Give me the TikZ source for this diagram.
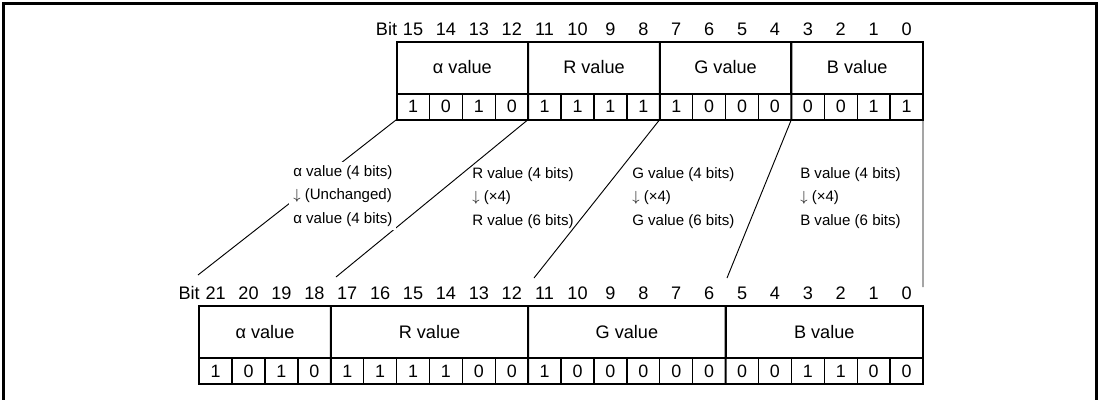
\documentclass[tikz,border=0pt]{standalone}
\usepackage{fontspec}
\setmainfont{Liberation Sans}
\usetikzlibrary{positioning}

\tikzset{
  bitcell/.style={draw, line width=1pt, outer sep=0pt, inner sep=0pt,
    minimum width=24.675pt, minimum height=19.5pt, font=\fontsize{13.4}{15}\selectfont},
  field/.style={draw, line width=1.5pt, outer sep=0pt, inner sep=0pt,
    minimum height=39pt, font=\fontsize{13.6}{16}\selectfont},
  bitnum/.style={inner sep=2pt, font=\fontsize{13.6}{15}\selectfont},
  note/.style={anchor=west, align=left, inner sep=3pt, font=\fontsize{11.3}{17.6}\selectfont},
  link/.style={line width=0.7pt},
  boxline/.style={line width=1.5pt},
}

\begin{document}
\begin{tikzpicture}[x=0.75pt, y=-0.75pt]
  \useasboundingbox (0,0) rectangle (1101,400);
  % outer frame, open at the bottom
  \draw[line width=2.2pt] (3.5,400) -- (3.5,3.5) -- (1096.5,3.5) -- (1096.5,400);

  % 16-bit register (top)
  \node[field, minimum width=98.7pt] (ta) at (462.4,67.5) {α value};
  \node[field, minimum width=98.7pt] (tr) at (594.0,67.5) {R value};
  \node[field, minimum width=98.7pt] (tg) at (725.6,67.5) {G value};
  \node[field, minimum width=98.7pt] (tb) at (857.2,67.5) {B value};
  \foreach \v [count=\i from 0] in {1,0,1,0,1,1,1,1,1,0,0,0,0,0,1,1} {
    \pgfmathtruncatemacro\b{15-\i}
    \node[bitcell] (tb\b) at ({396.6+(\i+0.5)*32.9},106.5) {\v};
    \node[bitnum] (tn\b) at ({396.6+(\i+0.5)*32.9},29) {\b};
  }
  \node[bitnum, left=0pt of tn15] (tbit) {Bit};
  \draw[boxline] (ta.north west) rectangle (tb0.south east);
  \draw[boxline] (tr.north west) -- (tb11.south west);
  \draw[boxline] (tg.north west) -- (tb7.south west);
  \draw[boxline] (tb.north west) -- (tb3.south west);

  % 22-bit register (bottom)
  \node[field, minimum width=98.7pt] (ba) at (265.0,332) {α value};
  \node[field, minimum width=148.05pt] (br) at (429.5,332) {R value};
  \node[field, minimum width=148.05pt] (bg) at (626.9,332) {G value};
  \node[field, minimum width=148.05pt] (bb) at (824.3,332) {B value};
  \foreach \v [count=\i from 0] in {1,0,1,0,1,1,1,1,0,0,1,0,0,0,0,0,0,0,1,1,0,0} {
    \pgfmathtruncatemacro\b{21-\i}
    \node[bitcell] (bb\b) at ({199.2+(\i+0.5)*32.9},371) {\v};
    \node[bitnum] (bn\b) at ({199.2+(\i+0.5)*32.9},293) {\b};
  }
  \node[bitnum, left=0pt of bn21] (bbit) {Bit};
  \draw[boxline] (ba.north west) rectangle (bb0.south east);
  \draw[boxline] (br.north west) -- (bb17.south west);
  \draw[boxline] (bg.north west) -- (bb11.south west);
  \draw[boxline] (bb.north west) -- (bb5.south west);

  % mapping lines
  \coordinate (ea) at (198,275);
  \coordinate (er) at (336,277);
  \coordinate (eg) at (534,278);
  \coordinate (eb) at (727,278);
  \coordinate (ez) at (923,287);
  \draw[link] (tb15.south west) -- (ea);
  \draw[link] (tb11.south west) -- (er);
  \draw[link] (tb7.south west) -- (eg);
  \draw[link] (tb3.south west) -- (eb);
  \draw[link] (tb0.south east) -- (ez);

  % conversion notes
  \node[note, fill=white] (na) at (289,196)
    {α value (4 bits)\\$\downarrow$ (Unchanged)\\α value (4 bits)};
  \node[note] (nr) at (468,198) {R value (4 bits)\\$\downarrow$ (×4)\\R value (6 bits)};
  \node[note] (ng) at (628,198) {G value (4 bits)\\$\downarrow$ (×4)\\G value (6 bits)};
  \node[note] (nb) at (796,198) {B value (4 bits)\\$\downarrow$ (×4)\\B value (6 bits)};
\end{tikzpicture}
\end{document}
